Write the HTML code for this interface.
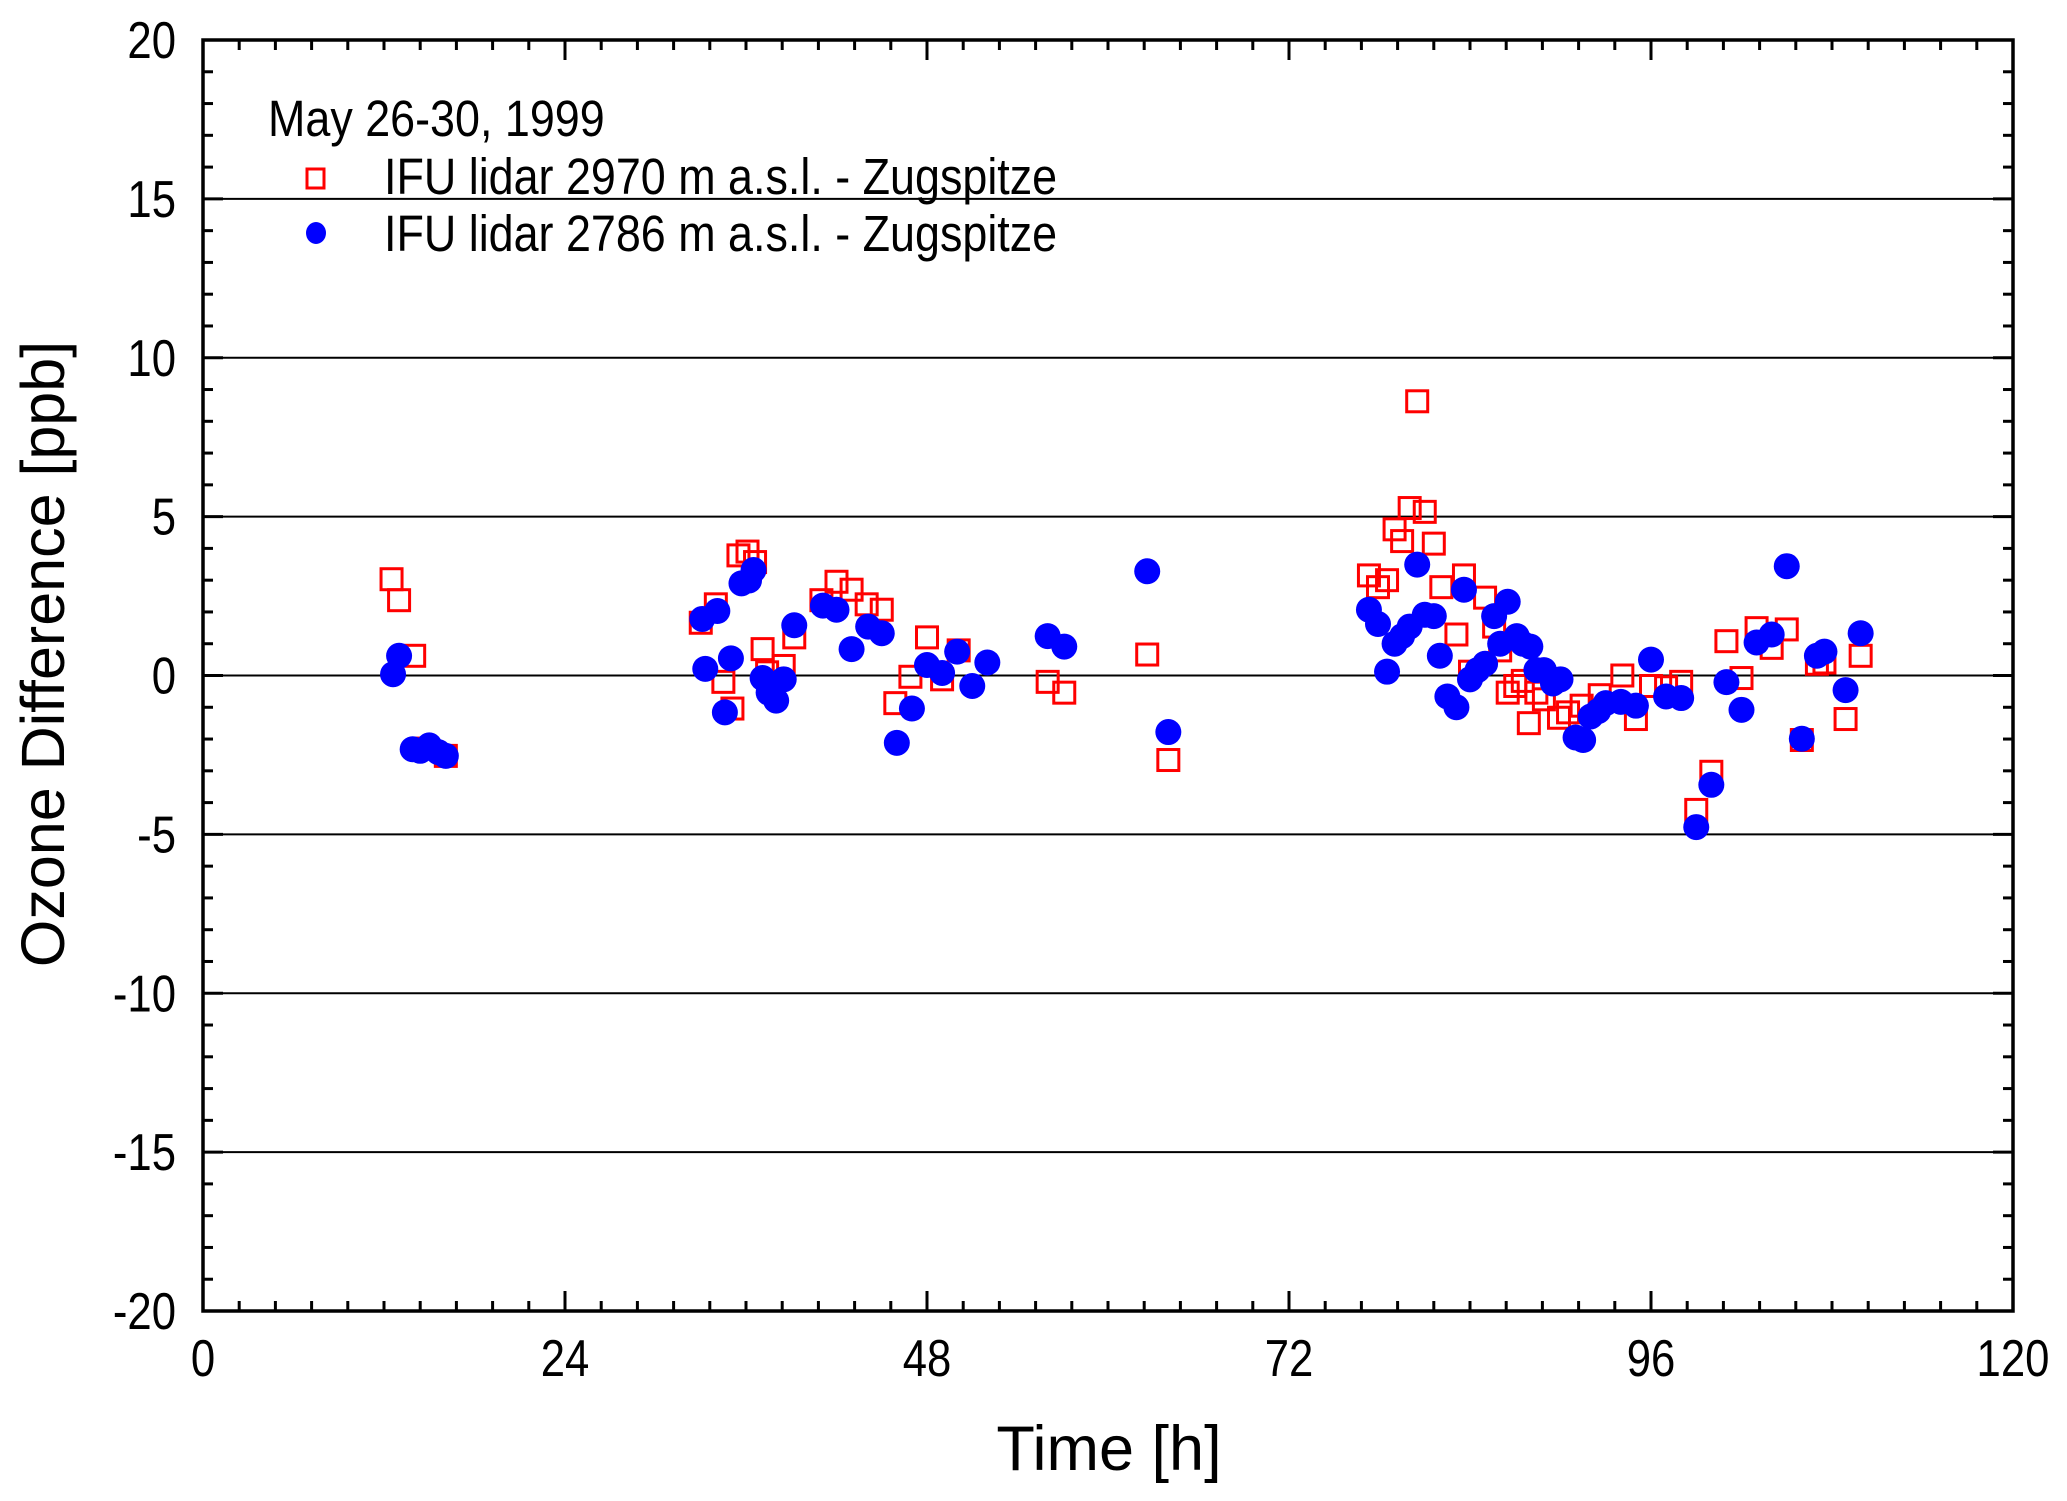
<!DOCTYPE html>
<html><head><meta charset="utf-8"><style>
html,body{margin:0;padding:0;background:#fff;}
svg{display:block;font-family:"Liberation Sans",sans-serif;}
</style></head><body>
<svg id="chart" width="2067" height="1501" viewBox="0 0 2067 1501" xmlns="http://www.w3.org/2000/svg">
<rect width="2067" height="1501" fill="#fff"/>
<g id="grid"></g><g id="marks"></g><g id="axes"></g>
<text transform="translate(268,136) scale(0.88,1)" font-size="51">May 26-30, 1999</text>
<rect x="307" y="169" width="17" height="19" fill="none" stroke="#f00" stroke-width="3"/>
<text transform="translate(384,194) scale(0.88,1)" font-size="51">IFU lidar 2970 m a.s.l. - Zugspitze</text>
<ellipse cx="316" cy="233" rx="10" ry="11" fill="#00f"/>
<text transform="translate(384,251) scale(0.88,1)" font-size="51">IFU lidar 2786 m a.s.l. - Zugspitze</text>
<text x="1109" y="1470" font-size="63" text-anchor="middle">Time [h]</text>
<text transform="translate(64,654) rotate(-90)" font-size="61" text-anchor="middle">Ozone Difference [ppb]</text>
</svg>
<script>
const sqT=[12.5,13.0,14.0,14.8,16.1,33.0,34.0,34.5,35.1,35.5,36.1,36.6,37.1,37.4,38.5,39.2,41.0,42.0,43.0,44.0,45.0,45.9,46.9,48.0,49.0,50.1,56.0,57.1,62.6,64.0,77.3,77.9,78.5,79.0,79.5,80.0,80.5,81.0,81.6,82.1,83.1,83.6,84.0,85.0,85.6,86.0,86.5,87.0,87.5,87.9,88.4,88.9,89.9,90.5,91.4,92.6,94.1,95.0,96.0,97.0,98.0,99.0,100.0,101.0,102.0,103.0,104.0,105.0,106.0,107.0,107.5,108.9,109.9];
const sqV=[3.03,2.37,0.62,-2.3,-2.53,1.66,2.24,-0.2,-1.04,3.78,3.9,3.57,0.83,0.1,0.3,1.2,2.37,2.95,2.7,2.24,2.07,-0.87,-0.04,1.2,-0.12,0.79,-0.2,-0.54,0.66,-2.66,3.15,2.78,3.0,4.6,4.23,5.27,8.63,5.15,4.15,2.78,1.29,3.15,0.12,2.45,1.54,0.79,-0.54,-0.33,-0.17,-1.5,-0.54,-0.75,-1.33,-1.16,-0.95,-0.62,0.0,-1.37,-0.33,-0.37,-0.2,-4.23,-3.03,1.08,-0.08,1.49,0.87,1.45,-2.03,0.37,0.41,-1.37,0.62];
const ciT=[12.6,13.0,13.9,14.4,15.0,15.6,16.1,33.1,33.3,34.1,34.6,35.0,35.7,36.2,36.5,37.1,37.5,38.0,38.5,39.2,41.1,42.0,43.0,44.1,45.0,46.0,47.0,48.0,49.0,50.0,51.0,52.0,56.0,57.1,62.6,64.0,77.3,77.9,78.5,79.0,79.5,80.0,80.5,81.0,81.6,82.0,82.5,83.1,83.6,84.0,84.5,85.0,85.6,86.0,86.5,87.1,87.5,88.0,88.4,88.9,89.5,90.0,91.0,91.5,92.0,92.5,93.0,94.0,95.0,96.0,97.0,98.0,99.0,100.0,101.0,102.0,103.0,104.0,105.0,106.0,107.0,107.5,108.9,109.9];
const ciV=[0.04,0.62,-2.32,-2.37,-2.2,-2.41,-2.53,1.78,0.21,2.03,-1.16,0.54,2.9,2.99,3.32,-0.08,-0.54,-0.79,-0.12,1.58,2.2,2.07,0.83,1.54,1.33,-2.12,-1.04,0.33,0.08,0.75,-0.33,0.41,1.24,0.91,3.28,-1.78,2.07,1.62,0.12,1.0,1.24,1.54,3.49,1.91,1.87,0.62,-0.66,-1.0,2.7,-0.12,0.17,0.37,1.87,1.0,2.32,1.24,1.0,0.91,0.17,0.17,-0.25,-0.12,-1.95,-2.03,-1.29,-1.12,-0.87,-0.83,-0.95,0.5,-0.66,-0.71,-4.77,-3.44,-0.21,-1.08,1.04,1.29,3.44,-1.99,0.62,0.75,-0.46,1.33];
const xTicks=[0,24,48,72,96,120];
const yTicks=[20,15,10,5,0,-5,-10,-15,-20];
const yTickLabels=["20","15","10","5","0","-5","-10","-15","-20"];

const X0=203,X1=2013,Y0=40,Y1=1311;
const xs=t=>X0+(t-0)/(120-0)*(X1-X0);
const ys=v=>Y1-(v+20)/40*(Y1-Y0);
const NS="http://www.w3.org/2000/svg";
function mk(tag,attrs,parent){const e=document.createElementNS(NS,tag);for(const k in attrs)e.setAttribute(k,attrs[k]);parent.appendChild(e);return e;}
const grid=document.getElementById('grid'),marks=document.getElementById('marks'),axes=document.getElementById('axes');

yTicks.forEach(v=>{if(v===20||v===-20)return;
 const l=mk('line',{x1:X0,x2:X1,y1:ys(v),y2:ys(v),stroke:'#000','stroke-width':2},grid);
 
 
});

sqT.forEach((t,i)=>{
 const r=mk('rect',{x:xs(t)-10.5,y:ys(sqV[i])-10.5,width:21,height:21,fill:'none',stroke:'#f00','stroke-width':3},marks);
 
 
});
ciT.forEach((t,i)=>{
 const c=mk('circle',{cx:xs(t),cy:ys(ciV[i]),r:13,fill:'#00f'},marks);
 
 
});

const frame=mk('rect',{x:X0,y:Y0,width:X1-X0,height:Y1-Y0,fill:'none',stroke:'#000','stroke-width':3.5},axes);



for(let t=0;t<=120.001;t+=2.4){
 const major=Math.abs(t/24-Math.round(t/24))<1e-6;const L=major?20:10;const x=xs(t);
 const tb=mk('line',{x1:x,x2:x,y1:Y1,y2:Y1-L,stroke:'#000','stroke-width':3},axes);
 
 
 const tt=mk('line',{x1:x,x2:x,y1:Y0,y2:Y0+L,stroke:'#000','stroke-width':3},axes);
 
 
}
for(let v=-20;v<=20;v+=1){
 const major=v%5===0;const L=major?20:10;const y=ys(v);
 const tl=mk('line',{x1:X0,x2:X0+L,y1:y,y2:y,stroke:'#000','stroke-width':3},axes);
 
 
 const tr=mk('line',{x1:X1,x2:X1-L,y1:y,y2:y,stroke:'#000','stroke-width':3},axes);
 
 
}
xTicks.forEach(t=>{
 const tx=mk('text',{transform:'translate('+xs(t)+',1376) scale(0.84,1)','font-size':52,'text-anchor':'middle'},axes);
 tx.textContent=String(t);
 
 
});
yTicks.forEach((v,i)=>{
 const tx=mk('text',{transform:'translate(176,'+(ys(v)+18)+') scale(0.84,1)','font-size':52,'text-anchor':'end'},axes);
 tx.textContent=yTickLabels[i];
 
 
});
</script>
</body></html>
